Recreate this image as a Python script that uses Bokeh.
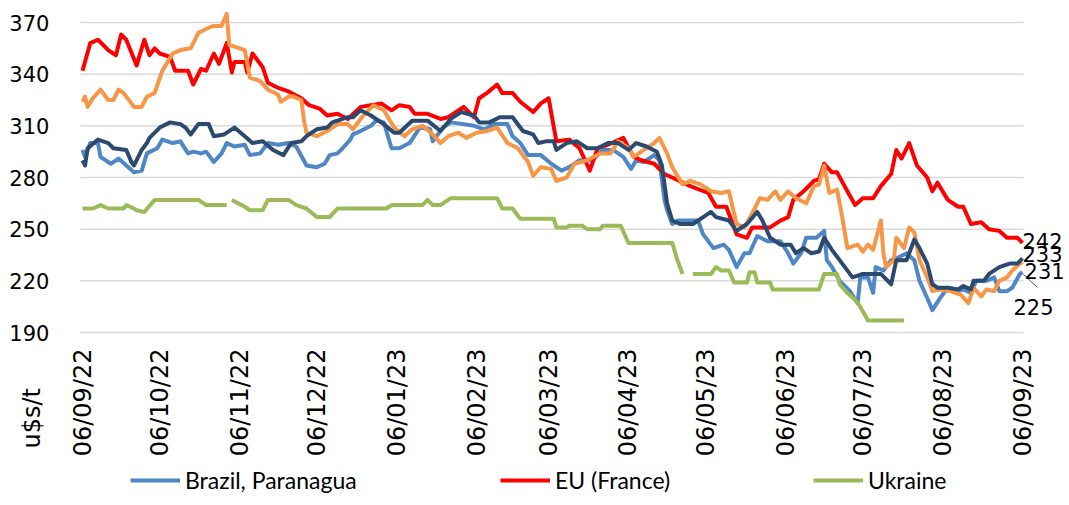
import math
from datetime import date
from bokeh.plotting import figure
from bokeh.models import FixedTicker, Legend, LegendItem, Label, Range1d, LinearAxis
from bokeh.embed import file_html
from bokeh.resources import INLINE

NAN = float("nan")
START = date(2022, 9, 6)

# tick months (6th of each month) and labels
tick_months = [(2022, 9), (2022, 10), (2022, 11), (2022, 12), (2023, 1), (2023, 2), (2023, 3),
               (2023, 4), (2023, 5), (2023, 6), (2023, 7), (2023, 8), (2023, 9)]
tick_labels = ["06/09/22", "06/10/22", "06/11/22", "06/12/22", "06/01/23", "06/02/23", "06/03/23",
               "06/04/23", "06/05/23", "06/06/23", "06/07/23", "06/08/23", "06/09/23"]
y_ticks = [190, 220, 250, 280, 310, 340, 370]

# series: x = days since 06/09/22, value in US$/t
brazil_days = [0, 1, 3, 6, 7, 11, 14, 17, 20, 23, 25, 29, 31, 35, 38, 41, 43, 46, 48, 51,
               54, 56, 59, 63, 65, 69, 72, 76, 80, 83, 87, 91, 94, 96, 99, 101, 104, 105, 108, 112,
               114, 117, 120, 123, 127, 131, 135, 136, 140, 143, 148, 152, 156, 160, 165, 167, 170, 173, 178, 182,
               186, 189, 193, 198, 202, 206, 210, 213, 215, 218, 222, 224, 226, 227, 229, 231, 235, 239, 241, 245,
               249, 251, 254, 257, 259, 262, 266, 271, 274, 276, 279, 281, 285, 288, 289, 291, 294, 298, 301, 302,
               305, 307, 308, 311, 314, 316, 320, 323, 325, 328, 330, 333, 336, 340, 342, 345, 347, 351, 354, 356,
               359, 361, 364, 365]
brazil_vals = [296, 292, 300, 300, 292, 288, 291, 287, 283, 284, 294, 297, 302, 300, 301, 294, 295, 294, 295, 289,
               294, 300, 298, 299, 293, 294, 300, 299, 300, 298, 287, 286, 288, 293, 294, 297, 302, 305, 307, 310,
               313, 312, 297, 297, 300, 309, 308, 301, 309, 312, 311, 310, 308, 311, 311, 304, 300, 293, 293, 288,
               284, 286, 290, 290, 296, 296, 292, 285, 290, 289, 293, 290, 267, 261, 253, 255, 255, 255, 247, 239,
               241, 238, 228, 236, 236, 246, 243, 243, 236, 230, 236, 245, 245, 249, 232, 228, 220, 214, 207, 222,
               222, 213, 228, 226, 232, 233, 236, 232, 220, 210, 203, 210, 216, 214, 215, 213, 220, 220, 222, 214,
               214, 216, 224, 225]

eu_days = [0, 3, 6, 10, 13, 15, 17, 21, 24, 26, 28, 30, 34, 36, 41, 43, 46, 48, 51, 53,
           56, 58, 59, 63, 64, 66, 70, 72, 76, 80, 85, 88, 92, 95, 99, 103, 108, 116, 120, 123,
           127, 129, 134, 139, 142, 146, 148, 152, 154, 157, 161, 163, 167, 170, 175, 178, 181, 184, 189, 193,
           197, 200, 204, 210, 214, 217, 222, 226, 229, 236, 243, 246, 250, 254, 258, 260, 267, 271, 274, 276,
           280, 284, 286, 288, 291, 293, 297, 300, 303, 307, 310, 314, 316, 318, 321, 324, 328, 330, 332, 336,
           340, 342, 345, 349, 352, 356, 359, 363, 365]
eu_vals = [342, 358, 360, 354, 351, 363, 360, 345, 360, 351, 355, 352, 350, 342, 342, 334, 343, 342, 352, 346,
           358, 341, 347, 347, 341, 352, 344, 335, 332, 330, 326, 322, 320, 316, 317, 314, 321, 323, 319, 322,
           321, 317, 317, 314, 315, 319, 321, 315, 326, 329, 334, 329, 329, 324, 318, 323, 326, 301, 302, 297,
           284, 297, 299, 303, 292, 290, 288, 282, 280, 275, 271, 263, 263, 247, 245, 251, 251, 255, 257, 267,
           272, 278, 279, 288, 283, 283, 272, 264, 268, 268, 275, 282, 296, 291, 300, 287, 280, 272, 277, 267,
           263, 263, 253, 254, 250, 249, 245, 245, 242]

ukraine_days = [0, 4, 7, 10, 16, 17, 20, 21, 24, 28, 45, 48, 56, 57,
                58, 63, 65, 70, 72, 80, 83, 87, 91, 96, 99, 118, 120, 132, 134, 136, 139, 143, 161, 163,
                167, 170, 183, 184, 188, 189, 194, 196, 201, 202, 209, 212, 229, 231, 233, 235,
                237, 244, 246, 248, 251, 253, 258, 259, 261, 262, 267, 268, 286, 288, 293, 294, 297, 300, 302, 305, 319]
ukraine_vals = [262, 262, 264, 262, 262, 264, 262, 261, 260, 267, 267, 264, 264, NAN,
                267, 263, 261, 261, 267, 267, 264, 262, 257, 257, 262, 262, 264, 264, 267, 264, 264, 268, 268, 262,
                262, 256, 256, 251, 251, 252, 252, 250, 250, 252, 252, 242, 242, 232, 224, NAN,
                224, 224, 228, 226, 226, 219, 219, 225, 225, 219, 219, 215, 215, 224, 224, 218, 213, 209, 205, 197, 197]

orange_days = [0, 1, 2, 4, 7, 10, 12, 14, 16, 20, 23, 25, 28, 31, 35, 38, 42, 45, 49, 51,
               54, 56, 57, 63, 65, 69, 72, 76, 77, 80, 82, 85, 86, 87, 91, 95, 99, 103, 105, 109,
               113, 117, 121, 125, 128, 132, 136, 139, 142, 146, 149, 153, 157, 161, 165, 169, 173, 175, 178, 182,
               184, 188, 191, 196, 201, 205, 208, 212, 214, 218, 222, 224, 227, 229, 233, 236, 240, 244, 248, 251,
               254, 257, 260, 263, 266, 269, 271, 274, 277, 281, 284, 286, 288, 290, 293, 295, 297, 301, 303, 305,
               307, 310, 311, 312, 315, 316, 319, 321, 323, 325, 328, 330, 333, 337, 341, 344, 346, 349, 351, 354,
               356, 359, 361, 364, 365]
orange_vals = [324, 327, 321, 326, 331, 325, 325, 331, 329, 321, 321, 327, 329, 342, 352, 354, 355, 364, 367, 368,
               368, 375, 357, 354, 338, 336, 331, 328, 324, 327, 327, 325, 313, 306, 304, 307, 311, 311, 308, 316,
               322, 319, 309, 304, 308, 310, 305, 300, 304, 306, 303, 306, 307, 309, 300, 297, 289, 281, 286, 285,
               278, 280, 288, 290, 294, 294, 301, 297, 292, 296, 300, 303, 294, 286, 276, 278, 276, 272, 271, 272,
               253, 251, 259, 268, 267, 272, 267, 272, 268, 265, 275, 276, 287, 271, 273, 257, 239, 241, 237, 241,
               238, 255, 236, 228, 232, 245, 239, 251, 248, 232, 222, 214, 215, 214, 212, 207, 216, 211, 215, 214,
               220, 222, 226, 230, 231]

navy_days = [0, 1, 2, 6, 10, 12, 17, 19, 20, 23, 25, 26, 30, 34, 38, 40, 42, 45, 49, 51,
             55, 59, 63, 66, 70, 74, 78, 81, 85, 87, 91, 95, 97, 103, 105, 108, 112, 117, 121, 123,
             128, 134, 139, 143, 147, 152, 154, 158, 162, 167, 171, 175, 177, 180, 183, 184, 188, 192, 196, 200,
             204, 208, 212, 215, 219, 223, 225, 227, 229, 232, 237, 240, 244, 246, 251, 254, 258, 262, 264, 267,
             271, 275, 277, 280, 283, 286, 288, 291, 295, 299, 303, 307, 310, 314, 316, 320, 323, 325, 328, 330,
             332, 336, 340, 342, 345, 346, 350, 352, 356, 360, 363, 365]
navy_vals = [290, 287, 297, 302, 300, 297, 296, 289, 287, 296, 300, 303, 309, 312, 311, 309, 305, 311, 311, 304,
             305, 309, 304, 300, 301, 296, 293, 300, 301, 304, 308, 309, 312, 315, 315, 319, 316, 311, 306, 306,
             313, 313, 307, 314, 318, 316, 312, 312, 315, 315, 307, 305, 300, 301, 301, 296, 300, 301, 297, 297,
             300, 300, 296, 300, 298, 295, 287, 265, 255, 253, 253, 256, 260, 257, 255, 249, 253, 260, 255, 245,
             241, 241, 236, 239, 236, 237, 245, 238, 230, 222, 224, 224, 224, 218, 232, 232, 244, 239, 230, 218,
             216, 216, 215, 217, 215, 220, 220, 224, 228, 230, 230, 233]

end_labels = ["242", "233", "231", "225"]
end_values = [242, 233, 231, 225]

# ---- geometry (pixels) ----
W, H = 1065, 497
PX_PER_DAY = 940 / 365
PX_PER_UNIT = 310 / 180
LEFT_PX = 82      # canvas x of day 0
TOP_PX = 22       # canvas y of the top tick value
tick_pos = [(date(y, m, 6) - START).days for (y, m) in tick_months]
last_day = tick_pos[-1]
Y_TOP_VAL = y_ticks[-1]
x0 = -LEFT_PX / PX_PER_DAY
x1 = (W - LEFT_PX) / PX_PER_DAY
y1 = Y_TOP_VAL + TOP_PX / PX_PER_UNIT
y0 = Y_TOP_VAL - (H - TOP_PX) / PX_PER_UNIT
plot_x0 = -0.8
plot_x1 = last_day + 0.4

p = figure(width=W, height=H, output_backend="svg", toolbar_location=None,
           x_axis_type=None, y_axis_type=None,
           x_range=Range1d(x0, x1), y_range=Range1d(y0, y1),
           min_border_left=0, min_border_right=0, min_border_top=0, min_border_bottom=0)
p.outline_line_color = None
p.background_fill_color = "white"
p.border_fill_color = "white"

TICK_FONT = "DejaVu Sans"

# horizontal gridlines at the y ticks, spanning the plot area only
p.segment(x0=[plot_x0] * len(y_ticks), y0=y_ticks, x1=[plot_x1] * len(y_ticks), y1=y_ticks,
          line_color="#d9d9d9", line_width=1.5)

xaxis = LinearAxis(fixed_location=y_ticks[0], ticker=FixedTicker(ticks=tick_pos),
                   major_label_overrides={t: l for t, l in zip(tick_pos, tick_labels)},
                   major_label_orientation=math.pi / 2, major_label_standoff=10,
                   major_label_text_font=TICK_FONT, major_label_text_font_size="24px")
yaxis = LinearAxis(fixed_location=plot_x0, ticker=FixedTicker(ticks=y_ticks),
                   major_label_standoff=25,
                   major_label_text_font=TICK_FONT, major_label_text_font_size="21px")
for ax in (xaxis, yaxis):
    ax.axis_line_color = None
    ax.major_tick_line_color = None
    ax.minor_tick_line_color = None
    ax.major_label_text_color = "black"
p.add_layout(xaxis, "below")
p.add_layout(yaxis, "left")

LW = 4
r_br = p.line(brazil_days, brazil_vals, line_color="#4f86c6", line_width=LW, line_join="round")
r_eu = p.line(eu_days, eu_vals, line_color="#ff0000", line_width=LW, line_join="round")
r_ua = p.line(ukraine_days, ukraine_vals, line_color="#9bbb59", line_width=LW, line_join="round")
r_or = p.line(orange_days, orange_vals, line_color="#f79646", line_width=LW, line_join="round")
r_nv = p.line(navy_days, navy_vals, line_color="#2c4a70", line_width=LW, line_join="round")

# end-of-line value labels
label_dx = [0.0, 0.0, 0.8, -3.5]
label_dy = [1.4, 2.3, -5.0, -20.2]
for txt, v, dx, dy in zip(end_labels, end_values, label_dx, label_dy):
    p.add_layout(Label(x=last_day + dx, y=v + dy, text=txt, text_font=TICK_FONT,
                       text_font_size="21px", text_color="black",
                       text_baseline="middle", text_align="left"))
# leader line for the last label
p.segment(x0=[last_day + 0.4], y0=[end_values[3] - 1.3], x1=[last_day + 5.8], y1=[end_values[3] - 8.8],
          line_color="#595959", line_width=1)

# unit label
p.add_layout(Label(x=-19.8, y=122.6, text="u$s/t", angle=math.pi / 2, text_font=TICK_FONT,
                   text_font_size="24px", text_color="black",
                   text_baseline="middle", text_align="left"))

# legend entries (one box each, at their own positions)
legend_renderers = [r_br, r_eu, r_ua]
legend_labels = ["Brazil, Paranagua", "EU (France)", "Ukraine"]
legend_x = [130, 500, 813]
for rend, lab, lx in zip(legend_renderers, legend_labels, legend_x):
    lg = Legend(items=[LegendItem(label=lab, renderers=[rend])],
                orientation="horizontal", location=(lx, 3),
                glyph_width=50, glyph_height=20, label_height=22, label_standoff=5,
                label_text_font="Lato", label_text_font_size="23px", label_text_color="black",
                border_line_color=None, background_fill_alpha=0,
                padding=0, margin=0)
    p.add_layout(lg, "center")

open("out.html", "w").write(file_html(p, INLINE))
